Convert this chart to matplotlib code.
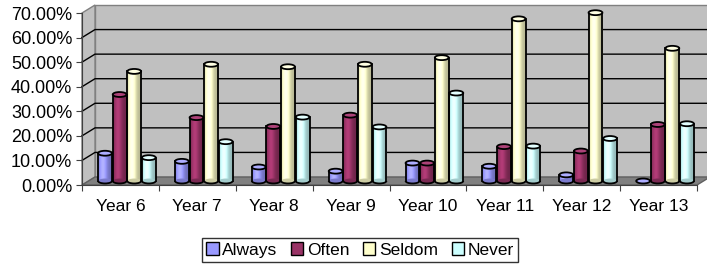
import matplotlib.pyplot as plt
import matplotlib.colors as mcolors
from matplotlib.patches import Ellipse, Arc, Polygon, Patch
import numpy as np

plt.rcParams['font.family'] = ['Liberation Sans', 'DejaVu Sans']

years = ["Year 6", "Year 7", "Year 8", "Year 9", "Year 10", "Year 11", "Year 12", "Year 13"]
always = [11.3, 8.0, 5.7, 4.0, 7.3, 6.0, 2.5, 0.0]
often = [35.2, 25.8, 22.2, 26.8, 7.3, 14.0, 12.2, 23.0]
seldom = [44.6, 47.5, 46.5, 47.5, 50.2, 66.0, 68.5, 54.0]
never = [9.5, 16.0, 26.0, 22.0, 35.8, 14.2, 17.3, 23.3]

series = [("Always", always, "#9999FF"),
          ("Often", often, "#993366"),
          ("Seldom", seldom, "#FFFFCC"),
          ("Never", never, "#CCFFFF")]

W, H = 707, 264
fig = plt.figure(figsize=(W / 100, H / 100), dpi=100)
ax = fig.add_axes([82 / W, (H - 185) / H, 615 / W, 172 / H])
ax.set_xlim(0, 8)
ax.set_ylim(0, 70)

# depth offset of the back wall, in data units
dx = 13 * 8 / 615
dy = 8 * 70 / 172

# walls and floor
ax.add_patch(Polygon([(dx, dy), (8 + dx, dy), (8 + dx, 70 + dy), (dx, 70 + dy)],
                     closed=True, fc="#C0C0C0", ec="#808080", lw=1, clip_on=False, zorder=0))
ax.add_patch(Polygon([(0, 0), (dx, dy), (dx, 70 + dy), (0, 70)],
                     closed=True, fc="#C0C0C0", ec="#808080", lw=1, clip_on=False, zorder=0))
for v in range(10, 70, 10):
    ax.plot([0, dx, 8 + dx], [v, v + dy, v + dy], color="black", lw=1, zorder=1, clip_on=False)
ax.add_patch(Polygon([(0, 0), (8, 0), (8 + dx, dy), (dx, dy)],
                     closed=True, fc="#808080", ec="#606060", lw=1, clip_on=False, zorder=1))

# cylinders
w = 0.18
step = 0.19
eh = 2.0
prof = np.linspace(0, 1, 40)
shade = 0.72 + 0.45 * np.exp(-((prof - 0.35) / 0.3) ** 2)
z = 3
for j, (name, vals, col) in enumerate(series):
    base = np.array(mcolors.to_rgb(col))
    grad = np.clip(base[None, :] * shade[:, None], 0, 1)[None, :, :]
    for i, v in enumerate(vals):
        xc = i + 0.5 + dx / 2 + (j - 1.5) * step
        y0 = dy / 2
        y1 = v + dy / 2
        x0 = xc - w / 2
        if v > 0:
            ax.imshow(grad, extent=(x0, x0 + w, y0, y1), aspect="auto", zorder=z, clip_on=False)
            ax.add_patch(Ellipse((xc, y0), w, eh, fc=tuple(base * 0.8), ec="none", zorder=z, clip_on=False))
            ax.add_patch(Arc((xc, y0), w, eh, theta1=180, theta2=360, color="black", lw=1.3, zorder=z + 1, clip_on=False))
            ax.plot([x0, x0], [y0, y1], color="black", lw=1.3, zorder=z + 1)
            ax.plot([x0 + w, x0 + w], [y0, y1], color="black", lw=1.3, zorder=z + 1)
        top = tuple(np.clip(base * 1.05 + 0.05, 0, 1))
        ax.add_patch(Ellipse((xc, y1), w, eh, fc=top, ec="black", lw=1.3, zorder=z + 2, clip_on=False))

ax.set_xlim(0, 8)
ax.set_ylim(0, 70)

for s in ["top", "right"]:
    ax.spines[s].set_visible(False)
ax.spines["left"].set_color("#404040")
ax.spines["bottom"].set_color("#404040")
ax.spines["left"].set_zorder(2)
ax.spines["bottom"].set_zorder(2)

ax.set_yticks(range(0, 71, 10))
ax.set_yticklabels(["%.2f%%" % t for t in range(0, 71, 10)], fontsize=13)
ax.set_xticks(range(0, 9))
ax.set_xticklabels([])
ax.set_xticks(np.arange(8) + 0.5, minor=True)
ax.set_xticklabels(years, minor=True, fontsize=12.5)
ax.tick_params(axis="x", which="minor", length=0, pad=10)
ax.tick_params(axis="both", which="major", length=4, color="#404040")
ax.tick_params(axis="y", pad=3)

handles = [Patch(fc=c, ec="black", lw=1, label=n) for n, _, c in series]
leg = fig.legend(handles=handles, loc="center", bbox_to_anchor=(360 / W, 1 - 250 / H),
                 ncol=4, fontsize=12.5, frameon=True, fancybox=False, handlelength=0.7,
                 handleheight=0.7, handletextpad=0.2, columnspacing=0.8, borderpad=0.25)
leg.get_frame().set_edgecolor("black")
leg.get_frame().set_linewidth(1)

fig.savefig("out.png", dpi=100)
